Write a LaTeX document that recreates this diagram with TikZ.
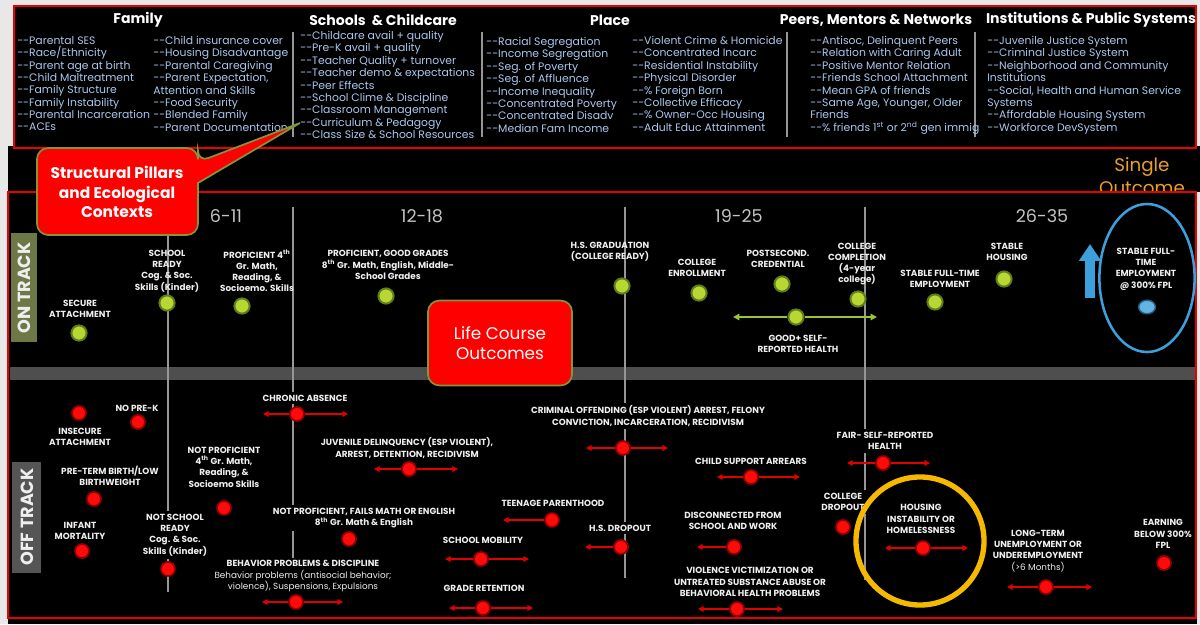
\documentclass[tikz,border=0pt]{standalone}
\usepackage{fontspec}
\setmainfont{Poppins}
\usetikzlibrary{arrows.meta,shapes.geometric}
\definecolor{itemblue}{RGB}{170,200,238}
\definecolor{lblw}{RGB}{238,238,238}
\definecolor{sepgray}{RGB}{150,150,150}
\definecolor{bordred}{RGB}{235,0,0}
\definecolor{olivebd}{RGB}{130,150,60}
\definecolor{ontrackc}{RGB}{110,120,70}
\definecolor{offtrackc}{RGB}{85,85,85}
\definecolor{bandc}{RGB}{78,78,78}
\definecolor{gfill}{RGB}{185,215,50}
\definecolor{gring}{RGB}{95,125,25}
\definecolor{rfill}{RGB}{255,10,10}
\definecolor{rring}{RGB}{150,0,0}
\definecolor{arrred}{RGB}{225,0,0}
\definecolor{bluec}{RGB}{60,160,220}
\definecolor{yelc}{RGB}{245,185,0}
\definecolor{orngc}{RGB}{235,160,40}
\definecolor{agegray}{RGB}{195,195,195}
\definecolor{garrc}{RGB}{150,200,50}
\definecolor{bgc}{RGB}{232,232,232}
\newcommand{\dd}{-\kern0pt-}
\begin{document}
\begin{tikzpicture}[x=0.025cm,y=-0.025cm,
  hdr/.style={text=white,font=\bfseries\fontsize{10}{12}\selectfont,inner sep=0pt},
  itm/.style={text=itemblue,font=\fontsize{7.7}{8.8}\selectfont,align=left,anchor=north west,inner sep=0pt},
  lbl/.style={text=lblw,font=\bfseries\fontsize{6.3}{8}\selectfont,align=center,inner sep=1pt},
  olbl/.style={lbl,fill=black,inner sep=2pt},
  gdot/.style={circle,fill=gfill,draw=gring,line width=1.4pt,minimum size=0.38cm,inner sep=0pt},
  rdot/.style={circle,fill=rfill,draw=rring,line width=1.2pt,minimum size=0.35cm,inner sep=0pt},
  bdot/.style={ellipse,fill=bluec!80!white,draw=bluec!60!black,line width=1pt,minimum width=0.42cm,minimum height=0.34cm,inner sep=0pt},
  rarr/.style={draw=arrred,line width=1.1pt,-{Triangle[length=4pt,width=4pt]}},
  garr/.style={draw=garrc,line width=1.2pt,-{Triangle[length=4.5pt,width=4.5pt]}},
  vln/.style={draw=sepgray,line width=1.1pt},
  agel/.style={text=agegray,font=\fontsize{12.5}{14}\selectfont,inner sep=0pt},
  callbox/.style={fill=red,draw=olivebd,line width=1.2pt}]
\useasboundingbox (0,0) rectangle (1200,624);
\fill[bgc] (0,0) rectangle (1200,624);
\fill[black] (8,146) rectangle (1200,192);
\fill[black] (8,192) rectangle (1197,624);
% ---------------- top box
\draw[bordred,line width=2pt,fill=black] (14,6) rectangle (1196,148);
\node[hdr] (hF) at (138,20) {Family};
\node[hdr] (hS) at (383,20) {Schools \ \& Childcare};
\node[hdr] (hP) at (610,20) {Place};
\node[hdr] (hN) at (876,20) {Peers, Mentors \& Networks};
\node[hdr] (hI) at (1091,20) {Institutions \& Public Systems};
\foreach \xx in {293,482,787,975} \draw[vln] (\xx,32) -- (\xx,137);
\node[itm] (f1) at (17,36) {\dd Parental SES\\\dd Race/Ethnicity\\\dd Parent age at birth\\\dd Child Maltreatment\\\dd Family Structure\\\dd Family Instability\\\dd Parental Incarceration\\\dd ACEs};
\node[itm] (f2) at (153,36) {\dd Child insurance cover\\\dd Housing Disadvantage\\\dd Parental Caregiving\\\dd Parent Expectation,\\Attention and Skills\\\dd Food Security\\\dd Blended Family\\\dd Parent Documentation};
\node[itm] (s1) at (300,31) {\dd Childcare avail + quality\\\dd Pre-K avail + quality\\\dd Teacher Quality + turnover\\\dd Teacher demo \& expectations\\\dd Peer Effects\\\dd School Clime \& Discipline\\\dd Classroom Management\\\dd Curriculum \& Pedagogy\\\dd Class Size \& School Resources};
\node[itm] (p1) at (486,37) {\dd Racial Segregation\\\dd Income Segregation\\\dd Seg. of Poverty\\\dd Seg. of Affluence\\\dd Income Inequality\\\dd Concentrated Poverty\\\dd Concentrated Disadv\\\dd Median Fam Income};
\node[itm] (p2) at (632,36) {\dd Violent Crime \& Homicide\\\dd Concentrated Incarc\\\dd Residential Instability\\\dd Physical Disorder\\\dd\% Foreign Born\\\dd Collective Efficacy\\\dd\% Owner-Occ Housing\\\dd Adult Educ Attainment};
\node[itm] (n1) at (810,36) {\dd Antisoc, Delinquent Peers\\\dd Relation with Caring Adult\\\dd Positive Mentor Relation\\\dd Friends School Attachment\\\dd Mean GPA of friends\\\dd Same Age, Younger, Older\\Friends\\\dd\% friends 1\textsuperscript{st} or 2\textsuperscript{nd} gen immig};
\node[itm] (i1) at (987,36) {\dd Juvenile Justice System\\\dd Criminal Justice System\\\dd Neighborhood and Community\\Institutions\\\dd Social, Health and Human Service\\Systems\\\dd Affordable Housing System\\\dd Workforce DevSystem};
% ---------------- single outcome
\node[text=orngc,font=\fontsize{13}{15}\selectfont,anchor=base,inner sep=0pt] (so1) at (1142,171) {Single};
\node[text=orngc,font=\fontsize{13}{15}\selectfont,anchor=base,inner sep=0pt] (so2) at (1142,194) {Outcome};
% ---------------- lower box
\fill[black] (9,192) rectangle (1196,617);
\draw[bordred,line width=2pt] (8,192) rectangle (1196,618);
\fill[bandc] (10,367) rectangle (1195,380);
\draw[vln] (168,207) -- (168,592);
\draw[vln] (293,207) -- (293,592);
\draw[vln] (625,207) -- (625,578);
\draw[vln] (865,207) -- (865,580);
\node[agel] (age1) at (226,216) {6-11};
\node[agel] (age2) at (422,216) {12-18};
\node[agel] (age3) at (739,216) {19-25};
\node[agel] (age4) at (1042,216) {26-35};
\fill[ontrackc] (11,233) rectangle (37,342);
\node[rotate=90,text=lblw,font=\bfseries\fontsize{12.5}{14}\selectfont,inner sep=0pt] (ont) at (24,288) {ON TRACK};
\fill[offtrackc] (12,462) rectangle (41,573);
\node[rotate=90,text=lblw,font=\bfseries\fontsize{12.5}{14}\selectfont,inner sep=0pt] (offt) at (27,517) {OFF TRACK};
% ---------------- on track
\node[lbl] (t1) at (80,309) {SECURE\\ATTACHMENT};
\node[gdot] (g1) at (79,333) {};
\node[lbl] (t2) at (167,271) {SCHOOL\\READY\\Cog. \& Soc.\\Skills (Kinder)};
\node[gdot] (g2) at (167,303) {};
\node[lbl] (t3) at (257,271) {PROFICIENT 4\textsuperscript{th}\\Gr. Math,\\Reading, \&\\Socioemo. Skills};
\node[gdot] (g3) at (242,306) {};
\node[lbl] (t4) at (388,265) {PROFICIENT, GOOD GRADES\\8\textsuperscript{th} Gr. Math, English, Middle-\\School Grades};
\node[gdot] (g4) at (386,296) {};
\node[lbl] (t5) at (610,252) {H.S. GRADUATION\\(COLLEGE READY)};
\node[gdot] (g5) at (622,286) {};
\node[lbl] (t6) at (697,268) {COLLEGE\\ENROLLMENT};
\node[gdot] (g6) at (699,293) {};
\node[lbl] (t7) at (778,259) {POSTSECOND.\\CREDENTIAL};
\node[gdot] (g7) at (782,284) {};
\node[lbl] (t8) at (857,264) {COLLEGE\\COMPLETION\\(4-year\\college)};
\node[gdot] (g8) at (858,299) {};
\node[lbl] (t9) at (940,279) {STABLE FULL-TIME\\EMPLOYMENT};
\node[gdot] (g9) at (935,302) {};
\node[lbl] (t10) at (1007,252) {STABLE\\HOUSING};
\node[gdot] (g10) at (1004,279) {};
\node[lbl] (t11) at (798,344) {GOOD+ SELF-\\REPORTED HEALTH};
\node[gdot] (g11) at (796,317) {};
\coordinate (g11l) at (733,317);
\coordinate (g11r) at (877,317);
\draw[garr] (g11) -- (g11l);
\draw[garr] (g11) -- (g11r);
\coordinate (ba0) at (1090,298);
\coordinate (ba1) at (1090,244);
\draw[draw=bluec,line width=7pt,-{Triangle[length=12pt,width=15pt]}] (ba0) -- (ba1);
\node[ellipse,draw=bluec,line width=1.8pt,minimum width=2.38cm,minimum height=3.7cm] (ell) at (1147,278) {};
\node[lbl] (t12) at (1146,269) {STABLE FULL-\\TIME\\EMPLOYMENT\\@ 300\% FPL};
\node[bdot] (b12) at (1147,307) {};
% ---------------- off track
\node[olbl] (o1) at (80,437) {INSECURE\\ATTACHMENT};
\node[rdot] (r1) at (79,413) {};
\node[olbl] (o2) at (137,408) {NO PRE-K};
\node[rdot] (r2) at (138,422) {};
\node[olbl] (o3) at (110,476) {PRE-TERM BIRTH/LOW\\BIRTHWEIGHT};
\node[rdot] (r3) at (94,499) {};
\node[olbl] (o4) at (80,531) {INFANT\\MORTALITY};
\node[rdot] (r4) at (82,551) {};
\node[olbl] (o5) at (175,535) {NOT SCHOOL\\READY\\Cog. \& Soc.\\Skills (Kinder)};
\node[rdot] (r5) at (168,569) {};
\node[olbl] (o6) at (224,467) {NOT PROFICIENT\\4\textsuperscript{th} Gr. Math,\\Reading, \&\\Socioemo Skills};
\node[rdot] (r6) at (224,508) {};
\node[olbl] (o7) at (305,398) {CHRONIC ABSENCE};
\node[rdot] (r7) at (297,414) {};
\coordinate (r7l) at (263,414); \coordinate (r7r) at (348,414);
\draw[rarr] (r7) -- (r7l); \draw[rarr] (r7) -- (r7r);
\node[olbl] (o8) at (407,448) {JUVENILE DELINQUENCY (ESP VIOLENT),\\ARREST, DETENTION, RECIDIVISM};
\node[rdot] (r8) at (409,469) {};
\coordinate (r8l) at (374,469); \coordinate (r8r) at (458,469);
\draw[rarr] (r8) -- (r8l); \draw[rarr] (r8) -- (r8r);
\node[olbl] (o9) at (364,518) {NOT PROFICIENT, FAILS MATH OR ENGLISH\\8\textsuperscript{th} Gr. Math \& English};
\node[rdot] (r9) at (349,539) {};
\node[olbl] (o10) at (303,576) {BEHAVIOR PROBLEMS \& DISCIPLINE\\{\mdseries Behavior problems (antisocial behavior;}\\{\mdseries violence), Suspensions, Expulsions}};
\node[rdot] (r10) at (296,602) {};
\coordinate (r10l) at (262,602); \coordinate (r10r) at (343,602);
\draw[rarr] (r10) -- (r10l); \draw[rarr] (r10) -- (r10r);
\node[olbl] (o11) at (483,540) {SCHOOL MOBILITY};
\node[rdot] (r11) at (481,559) {};
\coordinate (r11l) at (445,559); \coordinate (r11r) at (529,559);
\draw[rarr] (r11) -- (r11l); \draw[rarr] (r11) -- (r11r);
\node[olbl] (o12) at (484,588) {GRADE RETENTION};
\node[rdot] (r12) at (483,608) {};
\coordinate (r12l) at (449,608); \coordinate (r12r) at (533,608);
\draw[rarr] (r12) -- (r12l); \draw[rarr] (r12) -- (r12r);
\node[olbl] (o13) at (553,503) {TEENAGE PARENTHOOD};
\node[rdot] (r13) at (552,520) {};
\coordinate (r13l) at (503,520);
\draw[rarr] (r13) -- (r13l);
\node[olbl] (o14) at (648,416) {CRIMINAL OFFENDING (ESP VIOLENT) ARREST, FELONY\\CONVICTION, INCARCERATION, RECIDIVISM};
\node[rdot] (r14) at (623,448) {};
\coordinate (r14l) at (586,448); \coordinate (r14r) at (668,448);
\draw[rarr] (r14) -- (r14l); \draw[rarr] (r14) -- (r14r);
\node[olbl] (o15) at (620,528) {H.S. DROPOUT};
\node[rdot] (r15) at (621,547) {};
\coordinate (r15l) at (585,547);
\draw[rarr] (r15) -- (r15l);
\node[olbl] (o16) at (751,461) {CHILD SUPPORT ARREARS};
\node[rdot] (r16) at (751,477) {};
\coordinate (r16l) at (717,477); \coordinate (r16r) at (800,477);
\draw[rarr] (r16) -- (r16l); \draw[rarr] (r16) -- (r16r);
\node[olbl] (o17) at (733,521) {DISCONNECTED FROM\\SCHOOL AND WORK};
\node[rdot] (r17) at (734,547) {};
\coordinate (r17l) at (697,547);
\draw[rarr] (r17) -- (r17l);
\node[olbl] (o18) at (750,582) {VIOLENCE VICTIMIZATION OR\\UNTREATED SUBSTANCE ABUSE OR\\BEHAVIORAL HEALTH PROBLEMS};
\node[rdot] (r18) at (737,609) {};
\coordinate (r18l) at (698,609); \coordinate (r18r) at (783,609);
\draw[rarr] (r18) -- (r18l); \draw[rarr] (r18) -- (r18r);
\node[olbl] (o19) at (843,502) {COLLEGE\\DROPOUT};
\node[rdot] (r19) at (843,527) {};
\node[olbl] (o20) at (885,441) {FAIR- SELF-REPORTED\\HEALTH};
\node[rdot] (r20) at (883,463) {};
\coordinate (r20l) at (847,463); \coordinate (r20r) at (930,463);
\draw[rarr] (r20) -- (r20l); \draw[rarr] (r20) -- (r20r);
\node[olbl] (o21) at (921,519) {HOUSING\\INSTABILITY OR\\HOMELESSNESS};
\node[rdot] (r21) at (923,548) {};
\coordinate (r21l) at (885,548); \coordinate (r21r) at (968,548);
\draw[rarr] (r21) -- (r21l); \draw[rarr] (r21) -- (r21r);
\node[olbl] (o22) at (1038,551) {LONG-TERM\\UNEMPLOYMENT OR\\UNDEREMPLOYMENT\\{\mdseries(>6 Months)}};
\node[rdot] (r22) at (1046,587) {};
\coordinate (r22l) at (1007,587); \coordinate (r22r) at (1092,587);
\draw[rarr] (r22) -- (r22l); \draw[rarr] (r22) -- (r22r);
\node[olbl] (o23) at (1163,534) {EARNING\\BELOW 300\%\\FPL};
\node[rdot] (r23) at (1164,563) {};
% ---------------- callouts
\node[callbox,rounded corners=8pt,minimum width=3.6cm,minimum height=2.12cm,text=white,font=\fontsize{12}{14}\selectfont,align=center] (lco) at (500,343) {Life Course\\Outcomes};
\draw[callbox] (198,183) [rounded corners=8pt] -- (198,235) -- (37,235) -- (37,148) -- (198,148) -- (198,162) [sharp corners] -- (300,123) -- cycle;
\node[text=white,font=\bfseries\fontsize{11}{14}\selectfont,align=center,inner sep=0pt] (spc) at (117,192) {Structural Pillars\\and Ecological\\Contexts};
\node[circle,draw=yelc,line width=3.8pt,minimum size=3.2cm,inner sep=0pt] (hl) at (920,541) {};
\end{tikzpicture}
\end{document}
